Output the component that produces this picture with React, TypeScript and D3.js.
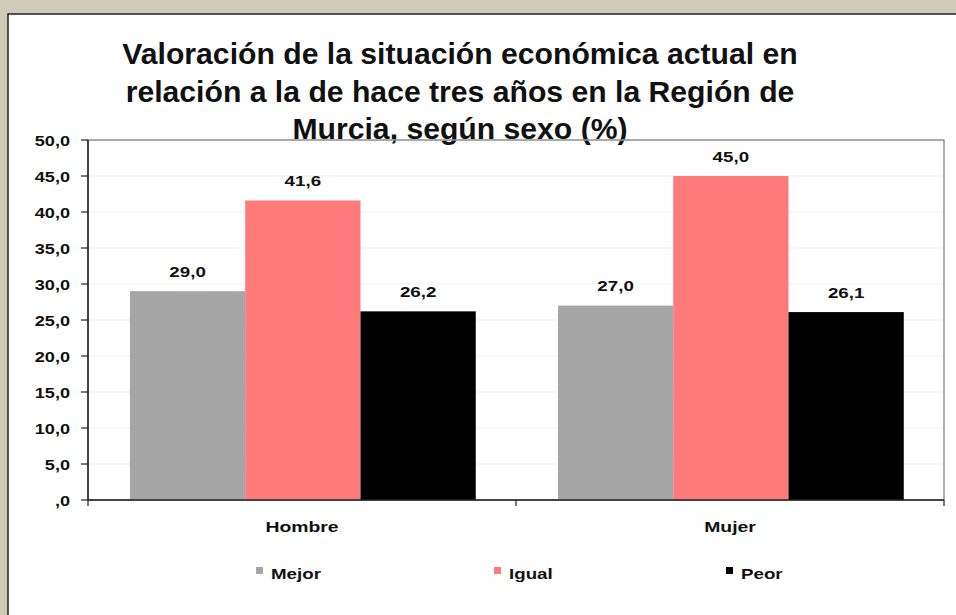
import React from "react";
import * as d3 from "d3";

const categories = ["Hombre", "Mujer"];
const seriesNames = ["Mejor", "Igual", "Peor"];
const mejor = [29.0, 27.0];
const igual = [41.6, 45.0];
const peor = [26.2, 26.1];
const yTicks = [0, 5, 10, 15, 20, 25, 30, 35, 40, 45, 50];
const titleLines = [
  "Valoración de la situación económica actual en",
  "relación a la de hace tres años en la Región de",
  "Murcia, según sexo (%)",
];
const colors = ["#a6a6a6", "#ff7b7b", "#000000"];

const fmt = (v: number) => {
  const s = d3.format(".1f")(v).replace(".", ",");
  return s.startsWith("0,") ? s.slice(1) : s;
};

const SX = 1.25;

function T(props: { x: number; y: number; size: number; anchor?: string; sx?: number; children: React.ReactNode }) {
  const { x, y, size, anchor = "start", sx = SX, children } = props;
  return (
    <text
      transform={`translate(${x},${y}) scale(${sx},1)`}
      textAnchor={anchor as any}
      fontSize={size}
      fontWeight="bold"
      fill="#111"
    >
      {children}
    </text>
  );
}

export default function App() {
  const W = 956, H = 615;
  const left = 88, right = 944, top = 140, bottom = 500;
  const values = [mejor, igual, peor];
  const y = d3.scaleLinear().domain([0, 50]).range([bottom, top]);
  const x0 = d3.scaleBand().domain(categories).range([left, right]).padding(0);
  const bw = x0.bandwidth();
  const x1 = d3.scaleBand().domain(seriesNames).range([bw * 0.098, bw * 0.906]).padding(0);
  const font = "Arial, 'Liberation Sans', sans-serif";
  const legendX = [256, 494, 726];

  return (
    <svg width={W} height={H} style={{ position: "absolute", left: 0, top: 0 }} fontFamily={font}>
      <rect x={0} y={0} width={W} height={H} fill="#cdcbb5" />
      <rect x={8} y={14} width={W} height={H} fill="#ffffff" stroke="#222" strokeWidth={1.5} />
      {titleLines.map((t, i) => (
        <T key={i} x={460} y={64 + i * 37.5} size={29} anchor="middle" sx={1.04}>
          {t}
        </T>
      ))}
      {yTicks.map((t) => (
        <line key={"g" + t} x1={left} x2={right} y1={y(t)} y2={y(t)} stroke="#efefef" strokeWidth={1} />
      ))}
      <rect x={left} y={top} width={right - left} height={bottom - top} fill="none" stroke="#777" strokeWidth={1.2} />
      {categories.map((c, ci) => (
        <g key={c} transform={`translate(${x0(c)},0)`}>
          {seriesNames.map((s, si) => {
            const v = values[si][ci];
            const bx = x1(s)!;
            return (
              <g key={s}>
                <rect x={bx} y={y(v)} width={x1.bandwidth()} height={bottom - y(v)} fill={colors[si]} />
                <T x={bx + x1.bandwidth() / 2} y={y(v) - 14.5} size={15} anchor="middle">
                  {fmt(v)}
                </T>
              </g>
            );
          })}
          <T x={bw / 2} y={532} size={15.5} anchor="middle">
            {c}
          </T>
        </g>
      ))}
      <line x1={left} x2={left} y1={top} y2={bottom} stroke="#222" strokeWidth={1.5} />
      <line x1={left} x2={right} y1={bottom} y2={bottom} stroke="#222" strokeWidth={1.5} />
      {yTicks.map((t) => (
        <g key={"t" + t}>
          <line x1={left - 7} x2={left} y1={y(t)} y2={y(t)} stroke="#222" strokeWidth={1.2} />
          <T x={70} y={y(t) + 5.5} size={14.5} anchor="end">
            {fmt(t)}
          </T>
        </g>
      ))}
      {[left, left + bw, right].map((xv, i) => (
        <line key={"xt" + i} x1={xv} x2={xv} y1={bottom} y2={bottom + 6} stroke="#222" strokeWidth={1.2} />
      ))}
      {seriesNames.map((s, i) => (
        <g key={"l" + s}>
          <rect x={legendX[i]} y={567} width={7} height={7} fill={colors[i]} />
          <T x={legendX[i] + 15} y={578.5} size={15}>
            {s}
          </T>
        </g>
      ))}
    </svg>
  );
}
